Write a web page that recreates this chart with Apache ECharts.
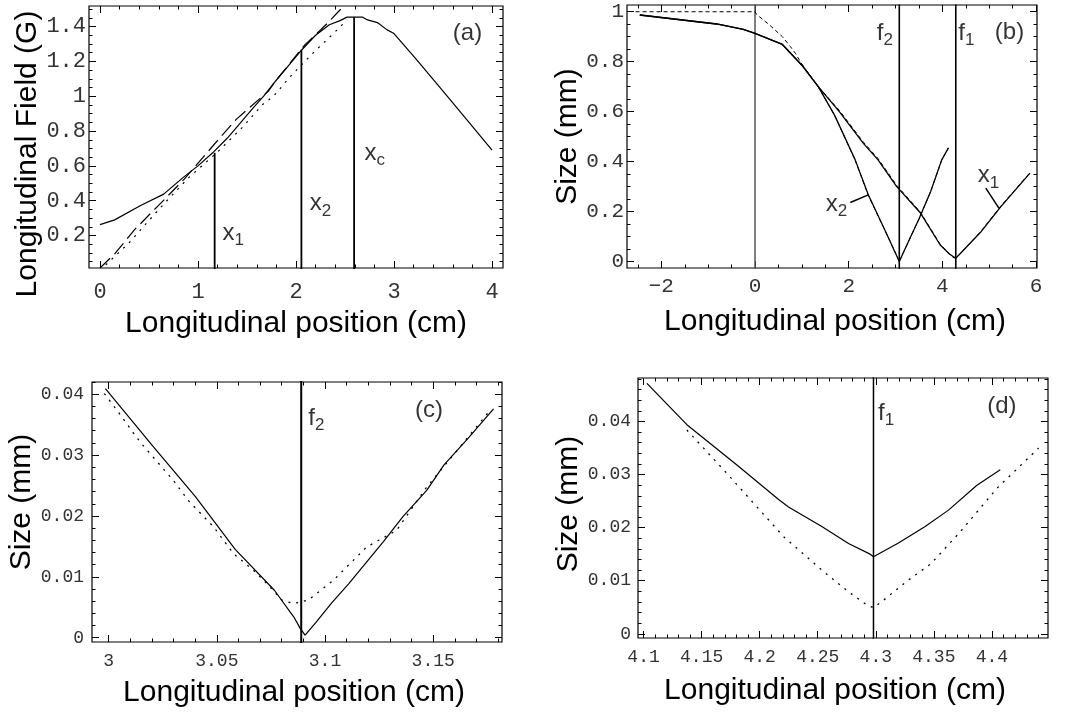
<!DOCTYPE html>
<html>
<head>
<meta charset="utf-8">
<script src="https://cdn.jsdelivr.net/npm/echarts@6/dist/echarts.min.js"></script>
<style>
  html, body { margin: 0; padding: 0; background: #fff; }
  #main { width: 1070px; height: 714px; }
</style>
</head>
<body>
<div id="main"></div>
<script>
// ---------- panel (a): longitudinal field ----------
var aXTicks = [0, 1, 2, 3, 4];
var aYTicks = [0.2, 0.4, 0.6, 0.8, 1, 1.2, 1.4];
var aSolidX = [0, 0.15, 0.41, 0.65, 0.85, 1.0, 1.15, 1.3, 1.42, 1.55, 1.67, 1.79, 1.93, 2.06, 2.2, 2.34, 2.45, 2.52, 2.68, 2.73, 2.83, 2.93, 3.0, 3.23, 3.5, 3.74, 4.0];
var aSolidY = [0.263, 0.29, 0.371, 0.438, 0.534, 0.6, 0.675, 0.76, 0.838, 0.924, 1.0, 1.086, 1.18, 1.267, 1.35, 1.41, 1.434, 1.454, 1.454, 1.438, 1.423, 1.381, 1.36, 1.21, 1.029, 0.867, 0.69];
var aDashX = [0, 0.15, 0.36, 0.61, 0.86, 1.16, 1.39, 1.525, 1.72, 1.79, 2.09, 2.25, 2.34, 2.49];
var aDashY = [0.014, 0.095, 0.238, 0.38, 0.524, 0.72, 0.867, 0.934, 1.03, 1.086, 1.295, 1.38, 1.43, 1.52];
var aDotX = [0, 0.3, 0.6, 0.9, 1.2, 1.45, 1.66, 1.77, 1.96, 2.19, 2.42, 2.52];
var aDotY = [0.0, 0.16, 0.35, 0.53, 0.68, 0.82, 0.953, 1.0, 1.124, 1.257, 1.381, 1.438];
var aMarkX = [1.17, 2.055, 2.593];       // x1, x2, xc
var aMarkTop = [0.675, 1.267, 1.454];

// ---------- panel (b): beam size ----------
var bXTicks = [-2, 0, 2, 4, 6];
var bYTicks = [0, 0.2, 0.4, 0.6, 0.8, 1];
var bSolid2X = [-2.46, -0.82, -0.25, 0, 0.585, 1.0, 1.35, 1.7, 2.139, 2.418, 2.836, 3.08, 3.3, 3.5, 3.75, 3.986, 4.13];
var bSolid2Y = [0.987, 0.951, 0.929, 0.913, 0.869, 0.786, 0.70, 0.585, 0.407, 0.267, 0.10, 0.0, 0.09, 0.17, 0.28, 0.407, 0.455];
var bSolid1X = [-2.46, -0.82, -0.25, 0, 0.585, 1.0, 1.35, 1.8, 2.313, 2.627, 3.025, 3.533, 3.95, 4.15, 4.286, 4.81, 5.24, 5.87];
var bSolid1Y = [0.987, 0.951, 0.929, 0.913, 0.869, 0.786, 0.70, 0.60, 0.473, 0.407, 0.30, 0.194, 0.067, 0.03, 0.013, 0.116, 0.218, 0.354];
var bDash2X = [-2.55, -1, 0, 0.03, 0.31, 0.585, 0.757, 0.86, 1.0, 1.35, 1.7, 2.139, 2.418, 2.836, 3.08, 3.5, 3.75, 3.986, 4.13];
var bDash2Y = [1.0, 1.0, 1.0, 0.99, 0.947, 0.9, 0.86, 0.834, 0.79, 0.70, 0.585, 0.405, 0.265, 0.10, 0.0, 0.17, 0.28, 0.407, 0.455];
var bDash1X = [1.0, 1.35, 1.8, 2.313, 2.627, 3.025, 3.533, 3.95, 4.2, 4.286, 4.81, 5.24, 5.87];
var bDash1Y = [0.79, 0.70, 0.605, 0.478, 0.412, 0.305, 0.197, 0.07, 0.02, 0.012, 0.118, 0.22, 0.356];
var bF2 = 3.08, bF1 = 4.286;
var bLeadX2 = [2.034, 2.418], bLeadY2 = [0.236, 0.267];
var bLeadX1 = [4.927, 5.206], bLeadY1 = [0.294, 0.214];

// ---------- panel (c): zoom on f2 ----------
var cXTicks = [3, 3.05, 3.1, 3.15];
var cYTicks = [0, 0.01, 0.02, 0.03, 0.04];
var cSolidX = [2.9985, 3.0208, 3.04, 3.0585, 3.0766, 3.0856, 3.0886, 3.0908, 3.096, 3.103, 3.111, 3.127, 3.136, 3.147, 3.155, 3.166, 3.1779];
var cSolidY = [0.0409, 0.0313, 0.0232, 0.0145, 0.0078, 0.0034, 0.0015, 0.00044, 0.0026, 0.0057, 0.0089, 0.0158, 0.0199, 0.0242, 0.0284, 0.0327, 0.0376];
var cDotX = [2.998, 3.0046, 3.0146, 3.03, 3.0369, 3.0485, 3.0577, 3.0669, 3.0731, 3.08, 3.0854, 3.0923, 3.1038, 3.1192, 3.133, 3.1469, 3.1623, 3.1762];
var cDotY = [0.0401, 0.037, 0.0321, 0.0258, 0.0225, 0.0182, 0.0138, 0.0111, 0.0089, 0.0062, 0.0056, 0.0062, 0.0094, 0.0149, 0.0176, 0.0247, 0.0313, 0.0373];
var cF2 = 3.089;

// ---------- panel (d): zoom on f1 ----------
var dXTicks = [4.1, 4.15, 4.2, 4.25, 4.3, 4.35, 4.4];
var dYTicks = [0, 0.01, 0.02, 0.03, 0.04];
var dSolidX = [4.1029, 4.1373, 4.1804, 4.2163, 4.2248, 4.2535, 4.2765, 4.2951, 4.298, 4.3195, 4.3425, 4.3626, 4.3871, 4.4072];
var dSolidY = [0.0472, 0.0394, 0.0318, 0.0253, 0.0239, 0.0202, 0.017, 0.015, 0.0145, 0.0171, 0.0202, 0.0233, 0.028, 0.0309];
var dDotX = [4.1373, 4.1718, 4.2206, 4.2535, 4.2765, 4.2925, 4.298, 4.3065, 4.328, 4.3475, 4.3727, 4.4043, 4.4402];
var dDotY = [0.0384, 0.0302, 0.0183, 0.012, 0.0079, 0.0054, 0.0049, 0.0063, 0.0101, 0.0132, 0.0192, 0.0274, 0.035];
var dF1 = 4.298;

var XNAME = 'Longitudinal position (cm)';

function pairs(xs, ys) {
    return xs.map(function (x, i) { return [x, ys[i]]; });
}
// minor tick positions between the labelled ones
function minors(range, step, majors) {
    var out = [];
    for (var k = Math.ceil(range[0] / step - 1e-9); k * step <= range[1] + 1e-9; k++) {
        var v = +(k * step).toFixed(6);
        var isMajor = majors.some(function (m) { return Math.abs(m - v) < step / 10; });
        if (!isMajor) out.push(v);
    }
    return out;
}
function fmt(v) {
    return String(+v.toFixed(4)).replace('-', '\u2212');
}

var grids = [], xAxes = [], yAxes = [], series = [];

function tickAxis(gi, pos, range, values, len) {
    return {
        type: 'value', gridIndex: gi, position: pos, min: range[0], max: range[1],
        axisLine: { show: false, onZero: false },
        splitLine: { show: false },
        axisTick: { show: true, inside: true, length: len, customValues: values, lineStyle: { color: '#000', width: 1 } },
        axisLabel: { show: false }
    };
}

function panel(p) {
    var gi = grids.length;
    grids.push({
        left: p.box[0], top: p.box[1], width: p.box[2], height: p.box[3],
        show: true, borderColor: '#000', borderWidth: 1.2, backgroundColor: 'transparent',
        containLabel: false, outerBoundsMode: 'none'
    });
    var xi = xAxes.length, yi = yAxes.length;
    var xMin = minors(p.xr, p.xs, p.xt), yMin = minors(p.yr, p.ys, p.yt);

    var xMain = tickAxis(gi, 'bottom', p.xr, p.xt, 7);
    xMain.axisLabel = {
        show: true, customValues: p.xt, formatter: fmt, margin: p.xMargin,
        fontFamily: 'Liberation Mono', fontSize: p.lab, color: '#333'
    };
    xMain.name = XNAME;
    xMain.nameLocation = 'middle';
    xMain.nameGap = p.xGap;
    xMain.nameTextStyle = { fontFamily: 'Liberation Sans', fontSize: 30, color: '#000', padding: p.xPad };
    xAxes.push(xMain, tickAxis(gi, 'bottom', p.xr, xMin, 3.5),
        tickAxis(gi, 'top', p.xr, p.xt, 7), tickAxis(gi, 'top', p.xr, xMin, 3.5));

    var yMain = tickAxis(gi, 'left', p.yr, p.yt, 7);
    yMain.axisLabel = {
        show: true, customValues: p.yt, formatter: fmt, margin: p.yMargin,
        fontFamily: 'Liberation Mono', fontSize: p.lab, color: '#333'
    };
    yMain.name = p.yName;
    yMain.nameLocation = 'middle';
    yMain.nameGap = p.yGap;
    yMain.nameTextStyle = { fontFamily: 'Liberation Sans', fontSize: 30, color: '#000', padding: p.yPad };
    yAxes.push(yMain, tickAxis(gi, 'left', p.yr, yMin, 3.5),
        tickAxis(gi, 'right', p.yr, p.yt, 7), tickAxis(gi, 'right', p.yr, yMin, 3.5));

    p.xi = xi;
    p.yi = yi;
    return p;
}

function curve(p, xs, ys, dash, width, color) {
    series.push({
        type: 'line', xAxisIndex: p.xi, yAxisIndex: p.yi, data: pairs(xs, ys),
        showSymbol: false, symbol: 'none', silent: true, clip: true, animation: false,
        lineStyle: { color: color || '#000', width: width || 1.2, type: dash || 'solid' }
    });
}
function vline(p, x, y0, y1, width, color) {
    curve(p, [x, x], [y0, y1], 'solid', width, color);
}
function notes(p, items) {
    series.push({
        type: 'scatter', xAxisIndex: p.xi, yAxisIndex: p.yi, symbolSize: 0, silent: true, animation: false,
        data: items.map(function (n) {
            return {
                value: [n[2], n[3]],
                label: { formatter: n[1] ? '{m|' + n[0] + '}{s|' + n[1] + '}' : '{m|' + n[0] + '}' }
            };
        }),
        label: {
            show: true, position: 'right', distance: 0,
            rich: {
                m: { fontFamily: 'Liberation Sans', fontSize: 24, color: '#000' },
                s: { fontFamily: 'Liberation Sans', fontSize: 17, color: '#000', padding: [14, 0, 0, 0] }
            }
        }
    });
}

// ---- panel (a)
var pa = panel({
    box: [89, 6, 414, 262], xr: [-0.112, 4.112], yr: [0.0137, 1.518],
    xt: aXTicks, yt: aYTicks, xs: 0.2, ys: 0.05, lab: 22, xMargin: 13, yMargin: 3,
    yName: 'Longitudinal Field (G)', xGap: 41, yGap: 46, xPad: [0, 0, 0, 0], yPad: [0, 34, 0, 0]
});
curve(pa, aSolidX, aSolidY, 'solid', 1.2);
curve(pa, aDashX, aDashY, [14, 6], 1.2);
curve(pa, aDotX, aDotY, [2, 6], 1.2);
aMarkX.forEach(function (x, i) { vline(pa, x, 0, aMarkTop[i], 1.8); });
notes(pa, [['x', '1', 1.25, 0.215], ['x', '2', 2.14, 0.382], ['x', 'c', 2.7, 0.672], ['(a)', '', 3.6, 1.359]]);

// ---- panel (b)
var pb = panel({
    box: [627, 5, 410, 263], xr: [-2.733, 6.02], yr: [-0.026, 1.027],
    xt: bXTicks, yt: bYTicks, xs: 0.5, ys: 0.05, lab: 21, xMargin: 8, yMargin: 3,
    yName: 'Size (mm)', xGap: 39, yGap: 44, xPad: [0, 0, 0, 6], yPad: [0, 0, 0, 0]
});
vline(pb, 0, -0.03, 1.03, 1.5, '#555');
vline(pb, bF2, -0.03, 1.03, 1.6);
vline(pb, bF1, -0.03, 1.03, 1.6);
curve(pb, bDash2X, bDash2Y, [4, 3], 1);
curve(pb, bDash1X, bDash1Y, [4, 3], 1);
curve(pb, bSolid2X, bSolid2Y, 'solid', 1.3);
curve(pb, bSolid1X, bSolid1Y, 'solid', 1.3);
curve(pb, bLeadX2, bLeadY2, 'solid', 1.5);
curve(pb, bLeadX1, bLeadY1, 'solid', 1.5);
notes(pb, [['f', '2', 2.6, 0.915], ['f', '1', 4.34, 0.915], ['(b)', '', 5.12, 0.918],
    ['x', '2', 1.511, 0.229], ['x', '1', 4.753, 0.343]]);

// ---- panel (c)
var pc = panel({
    box: [92, 382, 410, 260], xr: [2.9923, 3.1818], yr: [-0.0007, 0.042],
    xt: cXTicks, yt: cYTicks, xs: 0.01, ys: 0.002, lab: 18, xMargin: 10, yMargin: 8,
    yName: 'Size (mm)', xGap: 36, yGap: 49, xPad: [0, 6, 0, 0], yPad: [0, 0, 0, 20]
});
vline(pc, cF2, -0.001, 0.043, 2);
curve(pc, cDotX, cDotY, [2, 6], 1.3);
curve(pc, cSolidX, cSolidY, 'solid', 1.2);
notes(pc, [['f', '2', 3.0923, 0.036], ['(c)', '', 3.1416, 0.0373]]);

// ---- panel (d)
var pd = panel({
    box: [638, 378, 410, 260], xr: [4.0952, 4.4483], yr: [-0.0008, 0.0482],
    xt: dXTicks, yt: dYTicks, xs: 0.01, ys: 0.002, lab: 18, xMargin: 10, yMargin: 7,
    yName: 'Size (mm)', xGap: 38, yGap: 53, xPad: [0, 16, 0, 0], yPad: [0, 0, 0, 8]
});
vline(pd, dF1, -0.001, 0.049, 1.5);
curve(pd, dDotX, dDotY, [2, 6], 1.3);
curve(pd, dSolidX, dSolidY, 'solid', 1.2);
notes(pd, [['f', '1', 4.302, 0.0415], ['(d)', '', 4.396, 0.0428]]);

var chart = echarts.init(document.getElementById('main'), null, { renderer: 'canvas' });
chart.setOption({
    animation: false,
    backgroundColor: '#fff',
    textStyle: { fontFamily: 'Liberation Sans' },
    grid: grids,
    xAxis: xAxes,
    yAxis: yAxes,
    series: series
});
</script>
</body>
</html>
